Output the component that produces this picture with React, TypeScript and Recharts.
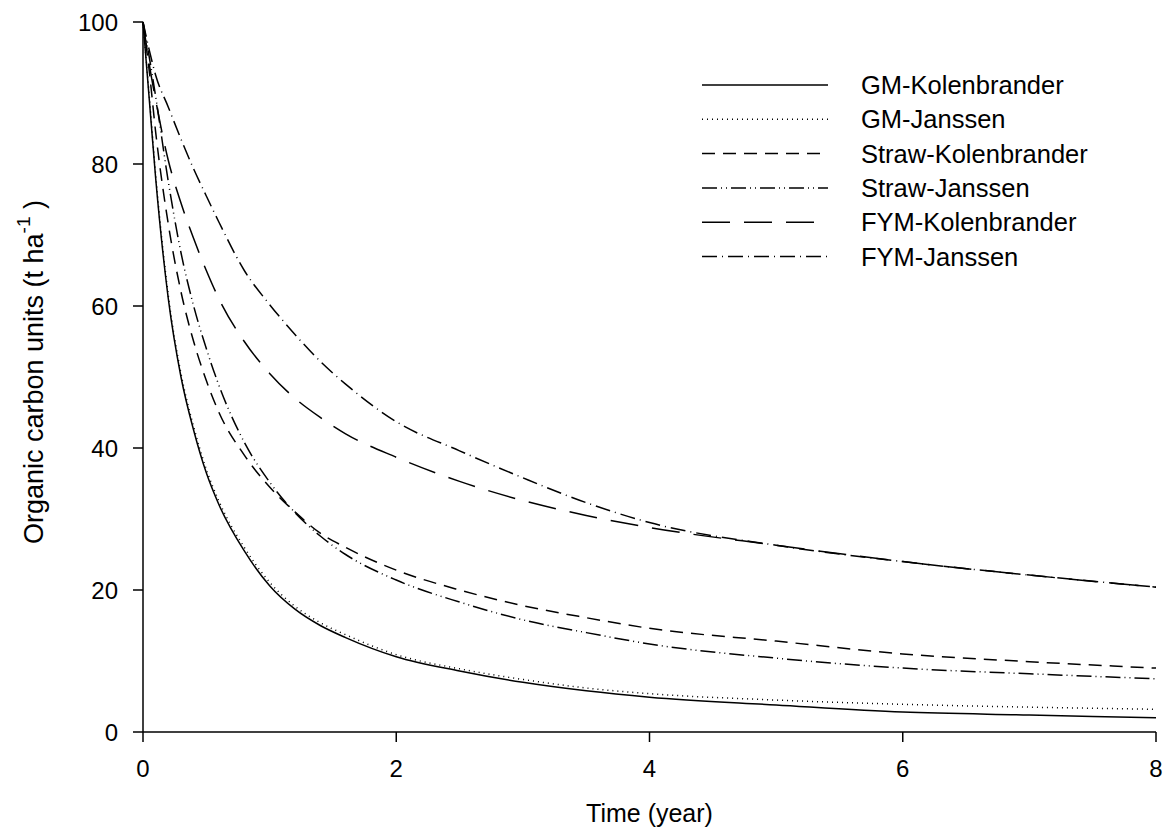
import { LineChart, Line, XAxis, YAxis } from "recharts";

const times = [0, 0.05, 0.1, 0.2, 0.3, 0.4, 0.5, 0.6, 0.8, 1.0, 1.2, 1.4, 1.6, 2.0, 2.5, 3.0, 3.5, 4.0, 5.0, 6.0, 7.0, 8.0];
const gmKolenbrander = [100, 89, 78, 61, 50, 42.5, 36.5, 32, 25.5, 20.6, 17.3, 15, 13.3, 10.6, 8.6, 7.0, 5.8, 4.9, 3.8, 2.8, 2.4, 2.0];
const gmJanssen = [100, 89.5, 78.5, 61.5, 50.5, 43, 37, 32.5, 26, 21.1, 17.7, 15.4, 13.7, 10.9, 8.9, 7.4, 6.2, 5.4, 4.5, 3.9, 3.5, 3.2];
const strawKolenbrander = [100, 93, 84.5, 71.5, 62, 55, 49.5, 45, 39, 34.5, 31, 28, 26, 22.8, 20, 17.8, 16.1, 14.6, 12.8, 11.0, 9.9, 9.0];
const strawJanssen = [100, 95, 89.5, 77.5, 67.5, 60, 54, 48.8, 40.8, 35.2, 30.9, 27.6, 25, 21.4, 18.3, 15.8, 14, 12.4, 10.4, 9.0, 8.2, 7.5];
const fymKolenbrander = [100, 94, 89, 80.5, 74.5, 69.5, 65, 61, 55, 50.5, 47, 44.3, 42, 38.7, 35.3, 32.6, 30.5, 28.8, 26.3, 24, 22.1, 20.4];
const fymJanssen = [100, 96, 92.5, 88, 83.5, 79.3, 75.5, 71.8, 65, 60.2, 56, 52.2, 49, 43.7, 39.6, 35.8, 32.3, 29.5, 26.3, 24, 22.1, 20.4];

const xTicks = [0, 2, 4, 6, 8];
const yTicks = [0, 20, 40, 60, 80, 100];

const series = [
  { key: "gmK", name: "GM-Kolenbrander", dash: undefined as string | undefined },
  { key: "gmJ", name: "GM-Janssen", dash: "1 4" },
  { key: "strawK", name: "Straw-Kolenbrander", dash: "13 8" },
  { key: "strawJ", name: "Straw-Janssen", dash: "15 4 1 4 1 4" },
  { key: "fymK", name: "FYM-Kolenbrander", dash: "28 14" },
  { key: "fymJ", name: "FYM-Janssen", dash: "15 5 1 5" },
];

const data = times.map((t, i) => ({
  t,
  gmK: gmKolenbrander[i],
  gmJ: gmJanssen[i],
  strawK: strawKolenbrander[i],
  strawJ: strawJanssen[i],
  fymK: fymKolenbrander[i],
  fymJ: fymJanssen[i],
}));

const font = "'Liberation Sans', Arial, sans-serif";
const tickStyle = { fontSize: 24, fill: "#000", fontFamily: font };

// legend drawn as an overlay so the chart doesn't reserve space for it
function LegendBox() {
  return (
    <svg width={440} height={210} style={{ position: "absolute", left: 700, top: 72 }}>
      {series.map((s, i) => {
        const y = 13 + i * 34.3;
        return (
          <g key={s.key}>
            <line x1={2} x2={128} y1={y} y2={y} stroke="#000" strokeWidth={1.5} strokeDasharray={s.dash} />
            <text x={161} y={y} dy="0.355em" fontSize={25.5} fontFamily={font} fill="#000">
              {s.name}
            </text>
          </g>
        );
      })}
    </svg>
  );
}

function YTitle(props: any) {
  const vb = props.viewBox || {};
  const cx = 34;
  const cy = vb.y + vb.height / 2 - 5;
  return (
    <text
      x={cx}
      y={cy}
      transform={`rotate(-90 ${cx} ${cy})`}
      textAnchor="middle"
      dominantBaseline="central"
      fontSize={27}
      fontFamily={font}
      fill="#000"
    >
      Organic carbon units (t ha
      <tspan baselineShift="super" fontSize={19}>-1</tspan>
      <tspan> )</tspan>
    </text>
  );
}

export default function App() {
  return (
    <div style={{ position: "fixed", left: 0, top: 0, width: 1166, height: 839, background: "#fff" }}>
      <LineChart width={1166} height={839} data={data} margin={{ top: 22, right: 10, bottom: 47, left: 0 }}>
        <XAxis
          dataKey="t"
          type="number"
          domain={[0, 8]}
          ticks={xTicks}
          height={60}
          tick={tickStyle}
          tickSize={10}
          tickMargin={18}
          stroke="#000"
          strokeWidth={1.5}
          tickLine={{ stroke: "#000", strokeWidth: 1.5 }}
          label={{ value: "Time (year)", position: "insideBottom", offset: -30, fontSize: 25, fill: "#000", fontFamily: font }}
        />
        <YAxis
          type="number"
          domain={[0, 100]}
          ticks={yTicks}
          width={143}
          tick={tickStyle}
          tickSize={10}
          tickMargin={15}
          stroke="#000"
          strokeWidth={1.5}
          tickLine={{ stroke: "#000", strokeWidth: 1.5 }}
          label={<YTitle />}
        />
        {series.map((s) => (
          <Line
            key={s.key}
            dataKey={s.key}
            name={s.name}
            type="monotone"
            stroke="#000"
            strokeWidth={1.5}
            strokeDasharray={s.dash}
            dot={false}
            isAnimationActive={false}
          />
        ))}
      </LineChart>
      <LegendBox />
    </div>
  );
}
